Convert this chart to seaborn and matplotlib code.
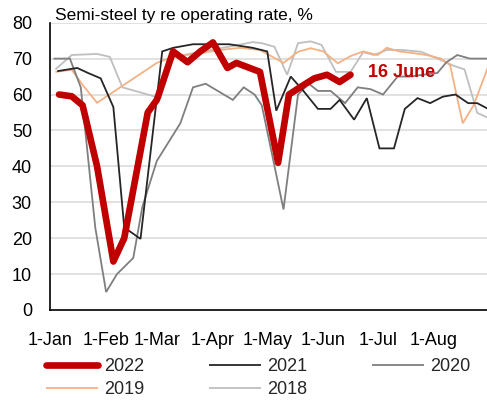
import matplotlib
matplotlib.use("Agg")
import matplotlib.pyplot as plt
import seaborn as sns
import pandas as pd
from matplotlib.lines import Line2D

# ---- data (x = day of year, 0 = 1 Jan) ----
days_2022 = [5, 12, 18, 26, 35, 41, 54, 59, 68, 76, 83, 90, 98, 103, 116, 126, 132, 139, 146, 153, 160, 166]
vals_2022 = [60, 59.5, 57, 40, 13.5, 20, 55, 58.5, 72, 69, 72, 74.5, 67.4, 68.8, 66.3, 41, 60, 62.3, 64.5, 65.5, 63.5, 65.5]

days_2021 = [4, 15, 21, 28, 35, 41, 50, 62, 68, 79, 90, 99, 112, 120, 125, 133, 140, 148, 155, 160, 168, 175, 182, 190, 196, 203, 210, 217, 224, 231, 236, 242]
vals_2021 = [66.5, 67.4, 66, 64.5, 56.5, 23, 19.8, 72, 73, 74, 74, 74, 73, 72, 55.5, 65, 61, 56, 56, 58.5, 53, 59, 45, 45, 56, 59, 57.6, 59.4, 60, 57.6, 57.6, 56]

days_2020 = [2, 11, 17, 25, 31, 37, 46, 51, 59, 72, 79, 86, 101, 107, 113, 117, 129, 137, 143, 148, 155, 163, 170, 177, 184, 192, 199, 206, 214, 219, 225, 232, 242]
vals_2020 = [70, 70, 62, 23, 5, 10, 14.5, 28.7, 41.5, 52, 62, 63, 58.5, 62, 60, 57, 28, 60, 63, 61, 61, 57.6, 62, 61.5, 60, 65, 65, 65.5, 66, 69, 71, 70, 70]

days_2019 = [3, 12, 18, 26, 59, 68, 83, 94, 105, 116, 129, 137, 144, 151, 159, 166, 173, 181, 186, 193, 201, 208, 216, 221, 228, 234, 242]
vals_2019 = [66.3, 66.9, 62.7, 57.7, 68.8, 70.5, 71.5, 72.4, 73, 72.4, 68.8, 71.9, 72.9, 72, 68.7, 70.7, 72, 71, 73, 72, 71.5, 71, 70, 68.2, 52, 57, 67.7]

days_2018 = [3, 12, 26, 33, 40, 61, 68, 79, 90, 101, 112, 117, 124, 131, 137, 144, 150, 158, 166, 173, 179, 186, 195, 205, 216, 223, 229, 236, 242]
vals_2018 = [67, 71, 71.3, 70.5, 62, 59, 70.5, 71.5, 72.5, 73.5, 74.6, 74.3, 73.3, 65.5, 74.3, 74.8, 73.8, 66.3, 66.3, 71.8, 71, 72.4, 72.4, 71.9, 69.6, 68, 67, 54.9, 53.5]

month_ticks = [0, 31, 59, 90, 120, 151, 181, 212]
month_labels = ["1-Jan", "1-Feb", "1-Mar", "1-Apr", "1-May", "1-Jun", "1-Jul", "1-Aug"]
y_ticks = [0, 10, 20, 30, 40, 50, 60, 70, 80]

title_text = "Semi-steel ty re operating rate, %"
annot_text = "16 June"

# ---- styling ----
sns.set_theme(style="white")
plt.rcParams["font.family"] = ["Liberation Sans", "DejaVu Sans"]

fig = plt.figure(figsize=(4.87, 4.08), dpi=100)
ax = fig.add_axes([50 / 487, 98 / 408, 437 / 487, 287.3 / 408])

series = [
    ("2018", days_2018, vals_2018, "#bfbfbf", 1.3),
    ("2019", days_2019, vals_2019, "#f4b183", 1.3),
    ("2020", days_2020, vals_2020, "#7f7f7f", 1.3),
    ("2021", days_2021, vals_2021, "#262626", 1.3),
    ("2022", days_2022, vals_2022, "#c00000", 4.8),
]
handles = {}
for name, d, v, col, lw in series:
    df = pd.DataFrame({"day": d, "val": v})
    sns.lineplot(data=df, x="day", y="val", ax=ax, color=col, linewidth=lw,
                 sort=False, legend=False, solid_capstyle="round" if name == "2022" else "butt",
                 solid_joinstyle="round" if name == "2022" else "miter")
    handles[name] = Line2D([0], [0], color=col, linewidth=lw,
                           solid_capstyle="round" if name == "2022" else "butt")

ax.set_xlim(0, 241.4)
ax.set_ylim(0, 80)
ax.set_xticks(month_ticks)
ax.set_xticklabels(month_labels)
ax.set_yticks(y_ticks)
ax.set_xlabel("")
ax.set_ylabel("")
ax.grid(False)
for yv in y_ticks[1:]:
    ax.axhline(yv, color="#d9d9d9", linewidth=1.1, zorder=0)

for s in ["top", "right"]:
    ax.spines[s].set_visible(False)
for s in ["left", "bottom"]:
    ax.spines[s].set_color("black")
    ax.spines[s].set_linewidth(1.2)
ax.tick_params(axis="both", which="both", direction="out", length=4, width=1.2,
               color="black", labelsize=13, labelcolor="black")
ax.tick_params(axis="y", pad=9)
ax.tick_params(axis="x", pad=12)

fig.text(55 / 487, 1 - 20 / 408, title_text, fontsize=12.5, color="black", va="baseline", ha="left")
ax.text((368 - 50) / 1.81, 66, annot_text, color="#c00000", fontsize=13, fontweight="bold",
        va="center", ha="left")

order = ["2022", "2019", "2021", "2018", "2020"]
fig.legend([handles[k] for k in order], order, loc="upper left", ncol=3,
           bbox_to_anchor=(46 / 487, 1 - 358 / 408), frameon=False, fontsize=13,
           handlelength=2.9, handletextpad=0.3, columnspacing=3.6, labelspacing=0.35,
           borderaxespad=0, borderpad=0)

fig.savefig("out.png", dpi=100)
